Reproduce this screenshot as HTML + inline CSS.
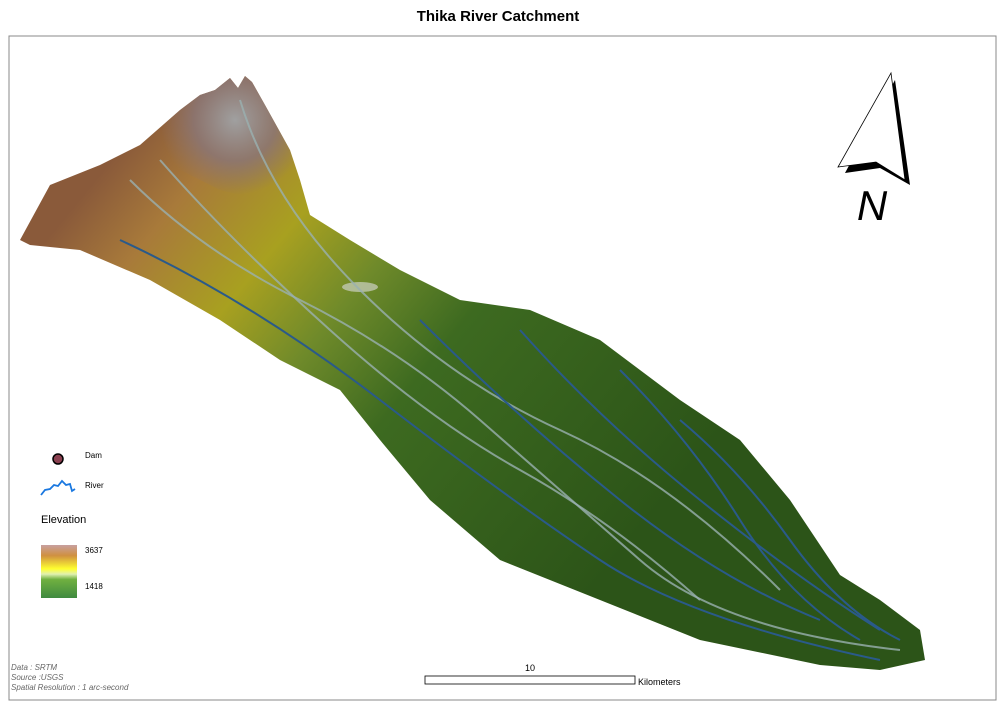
<!DOCTYPE html>
<html><head><meta charset="utf-8"><style>
body{margin:0;background:#fff;width:1005px;height:708px;overflow:hidden;font-family:"Liberation Sans",sans-serif}
</style></head><body>
<svg width="1005" height="708" viewBox="0 0 1005 708">
<defs>
<linearGradient id="elev" gradientUnits="userSpaceOnUse" x1="120" y1="150" x2="620" y2="560">
<stop offset="0" stop-color="#8a5a3a"/>
<stop offset="0.12" stop-color="#a87a3a"/>
<stop offset="0.28" stop-color="#a8a020"/>
<stop offset="0.42" stop-color="#6f8a2a"/>
<stop offset="0.58" stop-color="#3d6a20"/>
<stop offset="1" stop-color="#2c5418"/>
</linearGradient>
<radialGradient id="peak" cx="235" cy="120" r="75" gradientUnits="userSpaceOnUse">
<stop offset="0" stop-color="#a0a0a0" stop-opacity="1"/>
<stop offset="0.55" stop-color="#8a7575" stop-opacity="0.85"/>
<stop offset="1" stop-color="#8a7070" stop-opacity="0"/>
</radialGradient>
<linearGradient id="leg" x1="0" y1="0" x2="0" y2="1">
<stop offset="0" stop-color="#c8a0a0"/>
<stop offset="0.2" stop-color="#d09040"/>
<stop offset="0.45" stop-color="#ffff30"/>
<stop offset="0.55" stop-color="#e0f0b0"/>
<stop offset="0.65" stop-color="#70b040"/>
<stop offset="1" stop-color="#3f8a40"/>
</linearGradient>
</defs>
<rect x="9" y="36" width="987" height="664" fill="#fff" stroke="#888" stroke-width="1"/>
<text x="498" y="21" text-anchor="middle" font-size="15" font-weight="bold">Thika River Catchment</text>
<g>
<path d="M20,240 L50,185 L100,165 L140,145 L180,110 L200,95 L215,90 L230,78 L238,88 L245,76 L252,82 L265,105 L290,150 L300,180 L310,215 L350,240 L400,270 L460,300 L530,310 L600,340 L680,400 L740,440 L790,500 L840,575 L880,600 L920,630 L925,660 L880,670 L820,665 L700,640 L600,600 L500,560 L430,500 L380,440 L340,390 L280,360 L220,320 L150,280 L80,250 L30,245 Z" fill="url(#elev)"/>
<path d="M140,145 L180,110 L200,95 L215,90 L230,78 L238,88 L245,76 L252,82 L265,105 L290,150 L300,185 L260,200 L220,190 L180,170 Z" fill="url(#peak)"/>
<ellipse cx="360" cy="287" rx="18" ry="5" fill="#c0c8b0" opacity="0.8"/>
</g>
<g fill="none" stroke-width="2">
<path d="M130,180 Q200,250 300,300 T480,420 T640,560 T900,650" stroke="#9ab0b0" opacity="0.8"/>
<path d="M160,160 Q230,240 330,330 T520,470 T700,600" stroke="#9ab0b0" opacity="0.8"/>
<path d="M240,100 Q270,200 360,290 T560,430 T780,590" stroke="#9ab0b0" opacity="0.8"/>
<path d="M120,240 Q250,300 380,400 T600,560 T880,660" stroke="#2a5a8a"/>
<path d="M420,320 Q520,420 620,500 T820,620" stroke="#2a5a8a"/>
<path d="M520,330 Q600,420 700,500 T880,630" stroke="#2a5a8a"/>
<path d="M620,370 Q690,440 740,520 T860,640" stroke="#2a5a8a"/>
<path d="M680,420 Q740,470 790,540 T900,640" stroke="#2a5a8a"/>
</g>
<g>
<polygon points="895,80 910,185 880,168 845,173" fill="#000"/>
<polygon points="891,73 905,180 876,162 838,167" fill="#fff" stroke="#000" stroke-width="0.8"/>
<text x="872" y="220" text-anchor="middle" font-size="42" font-style="italic">N</text>
</g>
<g>
<circle cx="58" cy="459" r="5" fill="#8a4050" stroke="#000" stroke-width="1.5"/>
<text x="85" y="458" font-size="8">Dam</text>
<path d="M41,495 L45,490 L50,489 L54,485 L58,486 L62,481 L66,485 L70,484 L72,491 L75,489" fill="none" stroke="#1a78e0" stroke-width="1.8"/>
<text x="85" y="488" font-size="8">River</text>
<text x="41" y="523" font-size="11">Elevation</text>
<rect x="41" y="545" width="36" height="53" fill="url(#leg)"/>
<text x="85" y="553" font-size="8">3637</text>
<text x="85" y="589" font-size="8">1418</text>
</g>
<g font-size="8" font-style="italic" fill="#666">
<text x="11" y="670">Data : SRTM</text>
<text x="11" y="680">Source :USGS</text>
<text x="11" y="690">Spatial Resolution : 1 arc-second</text>
</g>
<g>
<rect x="425" y="676" width="210" height="8" fill="#fff" stroke="#000" stroke-width="0.8"/>
<text x="530" y="671" text-anchor="middle" font-size="9">10</text>
<text x="638" y="685" font-size="9">Kilometers</text>
</g>
</svg>
</body></html>
